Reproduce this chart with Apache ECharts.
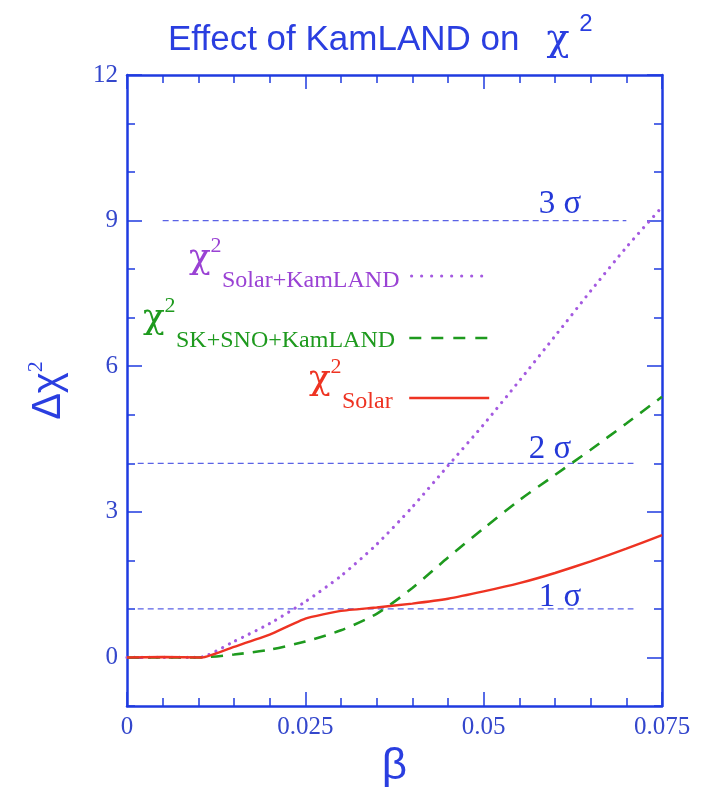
<!DOCTYPE html>
<html><head><meta charset="utf-8">
<script src="https://cdn.jsdelivr.net/npm/echarts@6/dist/echarts.min.js"></script>
<style>html,body{margin:0;padding:0;background:#fff}#c{width:708px;height:787px}</style>
</head><body><div id="c"></div>
<script>
// ---- data ----
const solarBeta  = [0, 0.005, 0.0105, 0.015, 0.02, 0.025, 0.03, 0.035, 0.04, 0.045, 0.05, 0.055, 0.06, 0.065, 0.07, 0.075];
const solarChi2  = [0, 0.01, 0, 0.22, 0.47, 0.80, 0.96, 1.03, 1.11, 1.21, 1.36, 1.53, 1.74, 1.98, 2.24, 2.52];
const skBeta     = [0, 0.005, 0.01, 0.015, 0.02, 0.025, 0.03, 0.035, 0.04, 0.045, 0.05, 0.055, 0.06, 0.065, 0.07, 0.075];
const skChi2     = [0, 0, 0, 0.06, 0.16, 0.33, 0.56, 0.90, 1.43, 2.06, 2.66, 3.24, 3.76, 4.28, 4.82, 5.37];
const skmBeta    = [0, 0.005, 0.01, 0.015, 0.02, 0.025, 0.03, 0.035, 0.04, 0.045, 0.05, 0.055, 0.06, 0.065, 0.07, 0.075];
const skmChi2    = [0, 0, 0, 0.33, 0.70, 1.15, 1.68, 2.33, 3.10, 3.95, 4.80, 5.70, 6.62, 7.55, 8.45, 9.28];
const xTicks = [0, 0.025, 0.05, 0.075];
const yTicks = [0, 3, 6, 9, 12];
const sigmaLevels = [1, 4, 9];
const sigmaNames  = ['1 σ', '2 σ', '3 σ'];
const sigmaFrom   = [0.0015, 0.0015, 0.005];
const sigmaTo     = [0.071, 0.071, 0.07];
const seriesNames = ['Solar+KamLAND', 'SK+SNO+KamLAND', 'Solar'];

// ---- styles ----
const AX = '#1f3be0', LBL = '#3447cc', TXT = '#2438d8', SIG = '#5a62e6';
const RED = '#ee3322', GREEN = '#1e9a1e', PURPLE = '#a45ae0', PTXT = '#9a42d4';
const SERIF = '"Liberation Serif", "Times New Roman", serif';
const GREEK = '"DejaVu Serif", serif';
const SANS = '"Liberation Sans", Arial, sans-serif';

const zip = (a, b) => a.map((v, i) => [v, b[i]]);
const tickStyle = {color: AX, width: 1.5};

const xBase = {
  type: 'value', min: 0, max: 0.075, interval: 0.025,
  axisLine: {onZero: false, lineStyle: {color: AX, width: 2.5}},
  axisTick: {inside: true, length: 14, lineStyle: tickStyle},
  minorTick: {show: true, splitNumber: 5, length: 8, lineStyle: tickStyle},
  splitLine: {show: false}, minorSplitLine: {show: false}
};
const yMinor = {
  type: 'value', min: -1, max: 12, interval: 1,
  axisLine: {show: true, onZero: false, lineStyle: {color: AX, width: 2.5}},
  axisTick: {show: true, inside: true, length: 8, lineStyle: tickStyle},
  splitLine: {show: false}
};
const yMajor = {
  type: 'value', min: -1, max: 12,
  axisLine: {show: false, onZero: false},
  axisTick: {show: true, inside: true, length: 15, customValues: yTicks, lineStyle: tickStyle},
  axisLabel: {show: false},
  splitLine: {show: false}
};

const purpleLine = {color: PURPLE, width: 3.2, type: [0.01, 7.5], cap: 'round'};
const greenLine  = {color: GREEN, width: 2.6, type: [12, 9]};
const redLine    = {color: RED, width: 2.4};

const series = [
  {name: seriesNames[0], type: 'line', data: zip(skmBeta, skmChi2), symbol: 'none', smooth: 0.25, z: 3,
   color: PURPLE, lineStyle: purpleLine, itemStyle: {color: PURPLE}},
  {name: seriesNames[1], type: 'line', data: zip(skBeta, skChi2), symbol: 'none', smooth: 0.25, z: 4,
   color: GREEN, lineStyle: greenLine, itemStyle: {color: GREEN}},
  {name: seriesNames[2], type: 'line', data: zip(solarBeta, solarChi2), symbol: 'none', smooth: 0.15, z: 5,
   color: RED, lineStyle: redLine, itemStyle: {color: RED}}
];
sigmaLevels.forEach((lv, i) => {
  series.push({name: 'sigma' + i, type: 'line', data: [[sigmaFrom[i], lv], [sigmaTo[i], lv]], symbol: 'none', silent: true, z: 2,
    color: SIG, itemStyle: {color: SIG}, lineStyle: {color: SIG, width: 1.2, type: [6, 4]}});
});

const legendBox = (name, left, top, ls) => ({
  data: [name], left: left, top: top, padding: 0, itemWidth: 80, itemHeight: 10,
  selectedMode: false, formatter: ' ', textStyle: {color: 'rgba(0,0,0,0)', fontSize: 2},
  itemStyle: {opacity: 0}, lineStyle: ls
});

function label(chiX, chiY, color, sub) {
  return [
    {type: 'text', style: {x: chiX, y: chiY, text: 'χ', font: '36px ' + GREEK, fill: color, align: 'center', verticalAlign: 'middle'}},
    {type: 'text', style: {x: chiX + 16, y: chiY - 13, text: '2', font: '22px ' + SERIF, fill: color, align: 'center', verticalAlign: 'middle'}},
    {type: 'text', style: {x: chiX + 22, y: chiY + 22, text: sub, font: '24px ' + SERIF, fill: color, align: 'left', verticalAlign: 'middle'}}
  ];
}

const graphic = [
  {type: 'text', style: {x: 168, y: 40, text: 'Effect of KamLAND on', font: '35px ' + SANS, fill: '#2a3ee0', align: 'left', verticalAlign: 'middle'}},
  {type: 'text', style: {x: 558, y: 40, text: 'χ', font: '38px ' + GREEK, fill: '#2a3ee0', align: 'center', verticalAlign: 'middle'}},
  {type: 'text', style: {x: 586, y: 24, text: '2', font: '24px ' + SANS, fill: '#2a3ee0', align: 'center', verticalAlign: 'middle'}},
  {type: 'text', style: {x: 560, y: 204, text: sigmaNames[2], font: '33px ' + SERIF, fill: TXT, align: 'center', verticalAlign: 'middle'}},
  {type: 'text', style: {x: 550, y: 449, text: sigmaNames[1], font: '33px ' + SERIF, fill: TXT, align: 'center', verticalAlign: 'middle'}},
  {type: 'text', style: {x: 560, y: 597, text: sigmaNames[0], font: '33px ' + SERIF, fill: TXT, align: 'center', verticalAlign: 'middle'}}
].concat(label(200, 259, PTXT, seriesNames[0]), label(154, 319, GREEN, seriesNames[1]), label(320, 380, RED, seriesNames[2]));

const chart = echarts.init(document.getElementById('c'), null, {renderer: 'canvas'});
chart.setOption({
  animation: false,
  backgroundColor: '#fff',
  grid: {left: 127, right: 46, top: 75, bottom: 81, containLabel: false, outerBoundsMode: 'none'},
  xAxis: [
    Object.assign({}, xBase, {position: 'bottom',
      axisLabel: {margin: 9, fontFamily: SERIF, fontSize: 25, color: LBL, formatter: v => String(+(+v).toFixed(3))},
      name: 'β', nameLocation: 'middle', nameGap: 35,
      nameTextStyle: {fontFamily: SANS, fontSize: 44, color: '#2a3ee0', verticalAlign: 'top'}}),
    Object.assign({}, xBase, {position: 'top', axisLabel: {show: false}})
  ],
  yAxis: [
    Object.assign({}, yMinor, {position: 'left',
      axisLabel: {margin: 9, fontFamily: SERIF, fontSize: 25, color: LBL,
        formatter: v => (yTicks.indexOf(Math.round(v)) >= 0 ? String(Math.round(v)) : '')},
      name: '{d|Δχ}{s|2}', nameLocation: 'middle', nameGap: 54, nameRotate: 90,
      nameTextStyle: {color: '#2a3ee0', rich: {
        d: {fontFamily: SANS, fontSize: 40, color: '#2a3ee0', lineHeight: 48},
        s: {fontFamily: SERIF, fontSize: 22, color: '#2a3ee0', verticalAlign: 'top', lineHeight: 48}}}}),
    Object.assign({}, yMajor, {position: 'left'}),
    Object.assign({}, yMinor, {position: 'right', axisLabel: {show: false}}),
    Object.assign({}, yMajor, {position: 'right'})
  ],
  legend: [
    legendBox(seriesNames[0], 410, 272, {width: 3.2, type: [0.01, 10], cap: 'round', color: PURPLE}),
    legendBox(seriesNames[1], 408, 334, {width: 2.6, type: [12, 10], color: GREEN}),
    legendBox(seriesNames[2], 408, 394, {width: 2.4, color: RED})
  ],
  series: series,
  graphic: graphic
});
</script></body></html>
